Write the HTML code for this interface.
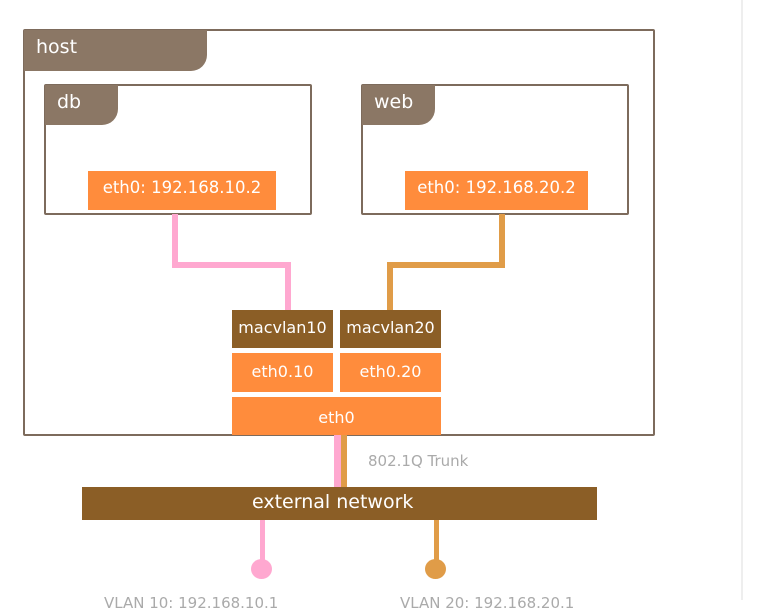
<!DOCTYPE html>
<html><head><meta charset="utf-8"><style>
body{margin:0;width:757px;height:600px;background:#fff;position:relative;overflow:hidden;font-family:"DejaVu Sans","Liberation Sans",sans-serif}
div{position:absolute;box-sizing:border-box}
.box{border:2px solid #7d6b5c;border-radius:2px}
.tab{background:#8b7765;color:#fff;border-bottom-right-radius:16px;padding-left:12px}
.or{background:#ff8c3c;color:#fff;text-align:center;white-space:nowrap}
.br{background:#8b5e26;color:#fff;text-align:center;white-space:nowrap}
.pk{background:#ffa8d0}
.og{background:#e09c48}
</style></head><body>
<div style="left:741px;top:0;width:2px;height:600px;background:#eee"></div>
<div class="box" style="left:23px;top:29px;width:632px;height:407px"></div>
<div class="tab" style="left:24px;top:30px;width:183px;height:41px;font-size:19px;line-height:34px">host</div>
<div class="box" style="left:44px;top:84px;width:268px;height:131px"></div>
<div class="tab" style="left:45px;top:85px;width:73px;height:40px;font-size:19px;line-height:34px">db</div>
<div class="box" style="left:361px;top:84px;width:268px;height:131px"></div>
<div class="tab" style="left:362px;top:85px;width:73px;height:40px;font-size:19px;line-height:34px">web</div>
<div class="or" style="left:88px;top:171px;width:188px;height:39px;font-size:16.5px;line-height:34px">eth0: 192.168.10.2</div>
<div class="or" style="left:405px;top:171px;width:183px;height:39px;font-size:16.5px;line-height:34px">eth0: 192.168.20.2</div>
<div class="pk" style="left:172px;top:214px;width:6px;height:53px"></div>
<div class="pk" style="left:172px;top:262px;width:119px;height:6px"></div>
<div class="pk" style="left:285px;top:262px;width:6px;height:48px"></div>
<div class="og" style="left:499px;top:214px;width:6px;height:53px"></div>
<div class="og" style="left:387px;top:262px;width:118px;height:6px"></div>
<div class="og" style="left:387px;top:262px;width:6px;height:48px"></div>
<div class="br" style="left:232px;top:310px;width:101px;height:38px;font-size:16px;line-height:36px">macvlan10</div>
<div class="br" style="left:340px;top:310px;width:101px;height:38px;font-size:16px;line-height:36px">macvlan20</div>
<div class="or" style="left:232px;top:353px;width:101px;height:39px;font-size:16px;line-height:38px">eth0.10</div>
<div class="or" style="left:340px;top:353px;width:101px;height:39px;font-size:16px;line-height:38px">eth0.20</div>
<div class="or" style="left:232px;top:397px;width:209px;height:38px;font-size:16px;line-height:42px">eth0</div>
<div class="pk" style="left:334px;top:435px;width:7px;height:52px"></div>
<div class="og" style="left:341px;top:435px;width:6px;height:52px"></div>
<div style="left:368px;top:452px;font-size:15px;color:#aaa;white-space:nowrap">802.1Q Trunk</div>
<div class="br" style="left:82px;top:487px;width:515px;height:33px;font-size:19px;line-height:30px;text-align:left;padding-left:170px">external network</div>
<div class="pk" style="left:260px;top:520px;width:5px;height:45px"></div>
<div class="pk" style="left:251px;top:559px;width:21px;height:20px;border-radius:50%"></div>
<div class="og" style="left:434px;top:520px;width:5px;height:45px"></div>
<div class="og" style="left:425px;top:559px;width:21px;height:20px;border-radius:50%"></div>
<div style="left:104px;top:594px;font-size:15px;color:#aaa;white-space:nowrap">VLAN 10: 192.168.10.1</div>
<div style="left:400px;top:594px;font-size:15px;color:#aaa;white-space:nowrap">VLAN 20: 192.168.20.1</div>
</body></html>
